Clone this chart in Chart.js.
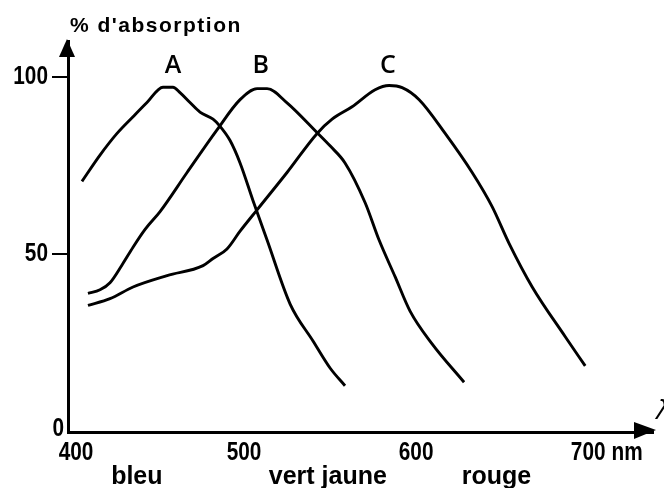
<!DOCTYPE html>
<html>
<head>
<meta charset="utf-8">
<script src="https://cdn.jsdelivr.net/npm/chart.js@4.4.1/dist/chart.umd.min.js"></script>
<style>
  html, body { margin: 0; padding: 0; background: #fff; }
  canvas { display: block; }
</style>
</head>
<body>
<canvas id="abs-chart" width="664" height="488"></canvas>
<script>
// Spectres d'absorption des trois pigments (A, B, C)
const nmA  = [408.1, 418.6, 428.5, 437.8, 445.9, 455.2, 461.0, 465.1, 470.9, 476.7, 484.3, 488.4, 494.2, 500, 507.6, 515.7, 529.1, 542.4, 552.3, 561.0];
const pctA = [70.5, 77.9, 84, 88.7, 92.7, 97, 97, 95.5, 92.7, 90, 88, 86, 82, 75.7, 65, 54, 36, 25.6, 18, 13];

const nmB  = [411.6, 418.6, 424.4, 431.4, 437.8, 444.8, 453.5, 469.2, 486.6, 500, 509.9, 515.7, 527.3, 544.8, 552.3, 561, 572.7, 580.8, 590.1, 598.8, 611.6, 630.2];
const pctB = [39, 40, 42, 47, 52, 57, 62, 73, 85, 93.5, 96.6, 96.6, 92.6, 84.2, 80.5, 75.7, 64.5, 54, 43.7, 34, 24.8, 14];

const nmC  = [411.6, 424.4, 437.8, 457.6, 478.5, 484.3, 492.4, 500, 509.9, 527.3, 544.8, 553.5, 565.1, 578.5, 586.6, 594.2, 604.1, 619.2, 634.9, 646.5, 656.4, 669.8, 689, 700.6];
const pctC = [35.6, 37.5, 40.8, 44, 46.8, 48.8, 51.5, 56.5, 62.5, 73, 84, 88, 91.5, 96.3, 97.5, 96.9, 93.5, 84, 73, 63.4, 53, 40.8, 26.8, 18.6];

const xTicks = [400, 500, 600, 700];
const yTicks = [0, 50, 100];
const xUnit = 'nm';
const yTitle = "% d'absorption";

const peakNames = ['A', 'B', 'C'];
const peakNm = [461, 512, 586];
const bandNames = ['bleu', 'vert jaune', 'rouge'];
const bandNm = [440, 551, 649];

// police condensée : Liberation Sans gras écrasé horizontalement
const narrowFont = "bold 26px 'Liberation Sans'";

function toPoints(xs, ys) {
  return xs.map((x, i) => ({ x: x, y: ys[i] }));
}

function curve(label, xs, ys) {
  return {
    label: label,
    data: toPoints(xs, ys),
    showLine: true,
    borderColor: '#000',
    borderWidth: 2.9,
    pointRadius: 0,
    cubicInterpolationMode: 'monotone',
    fill: false
  };
}

function narrowText(c, text, x, y, align) {
  c.save();
  c.font = narrowFont;
  const w = c.measureText(text).width * 0.8;
  let left = x;
  if (align === 'center') left = x - w / 2;
  if (align === 'right') left = x - w;
  c.translate(left, y);
  c.scale(0.8, 1);
  c.textAlign = 'left';
  c.textBaseline = 'middle';
  c.fillText(text, 0, 0);
  c.restore();
  return w;
}

// dessins en plus : flèches, graduations, titre, lettres, couleurs
const decorations = {
  id: 'decorations',
  afterDraw(chart) {
    const c = chart.ctx;
    const area = chart.chartArea;
    const xs = chart.scales.x;
    const ys = chart.scales.y;
    c.save();
    c.fillStyle = '#000';

    // flèche axe Y
    const ax = area.left - 1;
    c.beginPath();
    c.moveTo(ax, 39);
    c.lineTo(ax - 8, 57);
    c.lineTo(ax + 8, 57);
    c.closePath();
    c.fill();

    // flèche axe X
    const ay = area.bottom;
    c.beginPath();
    c.moveTo(656, ay - 2);
    c.lineTo(634, ay - 10);
    c.lineTo(634, ay + 7);
    c.closePath();
    c.fill();

    // étiquettes des graduations
    yTicks.forEach(v => {
      const y = ys.getPixelForValue(v);
      if (v === 0) narrowText(c, String(v), area.left - 4, y - 3, 'right');
      else narrowText(c, String(v), area.left - 20, y, 'right');
    });
    xTicks.forEach(v => {
      const x = xs.getPixelForValue(v);
      const w = narrowText(c, String(v), x + (v === 400 ? 8 : 4), 453, 'center');
      if (v === 700) narrowText(c, xUnit, x + 4 + w / 2 + 6, 453, 'left');
    });

    // titre de l'axe Y
    c.font = "bold 21px 'Liberation Sans'";
    c.letterSpacing = '1.5px';
    c.textAlign = 'left';
    c.textBaseline = 'alphabetic';
    c.fillText(yTitle, 70, 32);
    c.letterSpacing = '0px';

    // lambda coupé au bord
    c.font = "italic 26px 'DejaVu Sans'";
    c.textBaseline = 'middle';
    c.fillText('λ', 656, 412);

    // A, B, C
    c.font = "600 25px 'Open Sans'";
    c.textAlign = 'center';
    peakNames.forEach((n, i) => {
      c.fillText(n, xs.getPixelForValue(peakNm[i]), ys.getPixelForValue(103));
    });

    // domaines de couleur
    c.font = "bold 25px 'Liberation Sans'";
    c.textBaseline = 'alphabetic';
    bandNames.forEach((n, i) => {
      c.fillText(n, xs.getPixelForValue(bandNm[i]), 484);
    });

    c.restore();
  }
};

const ctx = document.getElementById('abs-chart').getContext('2d');
const absChart = new Chart(ctx, {
  type: 'scatter',
  data: {
    datasets: [
      curve('A', nmA, pctA),
      curve('B', nmB, pctB),
      curve('C', nmC, pctC)
    ]
  },
  options: {
    responsive: false,
    animation: false,
    layout: { padding: { top: 41, right: 11, left: 0, bottom: 0 } },
    plugins: {
      legend: { display: false },
      tooltip: { enabled: false }
    },
    scales: {
      x: {
        type: 'linear',
        min: 400,
        max: 740,
        afterBuildTicks: s => { s.ticks = xTicks.map(v => ({ value: v })); },
        afterFit: s => { s.height = 56; },
        grid: { display: false },
        border: { display: true, color: '#000', width: 3 },
        ticks: { autoSkip: false, maxRotation: 0, callback: () => '' }
      },
      y: {
        min: 0,
        max: 110,
        afterBuildTicks: s => { s.ticks = yTicks.map(v => ({ value: v })); },
        afterFit: s => { s.width = 68; },
        grid: {
          drawOnChartArea: false,
          drawTicks: true,
          tickLength: 16,
          lineWidth: 2,
          color: c => (c.tick && c.tick.value === 0) ? 'rgba(0,0,0,0)' : '#000'
        },
        border: { display: true, color: '#000', width: 3 },
        ticks: { padding: 2, callback: () => '' }
      }
    }
  },
  plugins: [decorations]
});
</script>
</body>
</html>
